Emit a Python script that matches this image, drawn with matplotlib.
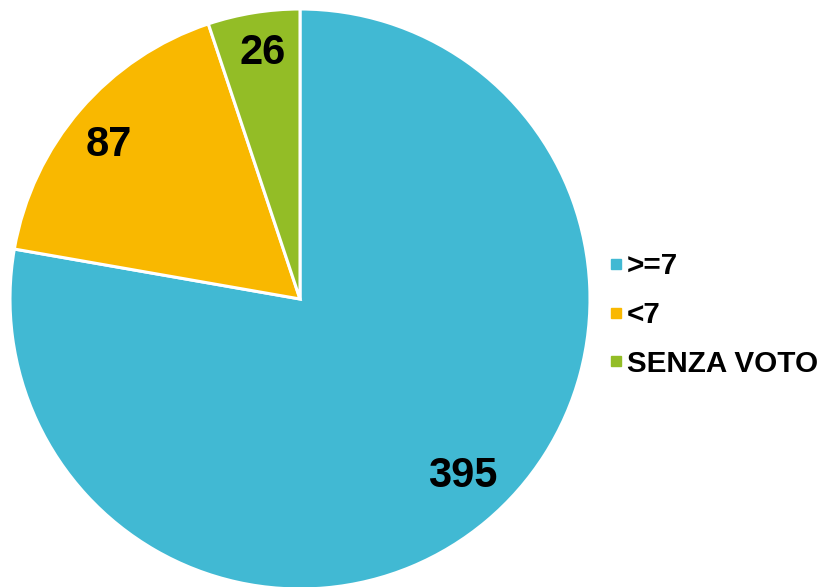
import matplotlib.pyplot as plt
from matplotlib.lines import Line2D

plt.rcParams['font.family'] = ['Liberation Sans', 'DejaVu Sans']

# dati
categorie = ['>=7', '<7', 'SENZA VOTO']
valori = [395, 87, 26]
colori = ['#41B9D3', '#F9B800', '#93BD26']

fig = plt.figure(figsize=(8.2, 5.87), dpi=100)
# centro torta circa (300, 299) px, raggio 290 px
ax = fig.add_axes([10 / 820, (587 - 299 - 290) / 587, 580 / 820, 580 / 587])

wedges, _ = ax.pie(valori, colors=colori, startangle=90, counterclock=False,
                   radius=1.0, wedgeprops=dict(edgecolor='white', linewidth=2.2))
ax.set_xlim(-1, 1)
ax.set_ylim(-1, 1)
ax.set_aspect('equal')

# etichette dei valori
pos = [(0.56, -0.61), (-0.66, 0.53), (-0.13, 0.85)]
for v, (x, y) in zip(valori, pos):
    ax.text(x, y, str(v), ha='center', va='center', fontsize=30, fontweight='bold')

handles = [Line2D([0], [0], marker='s', linestyle='none', markersize=7,
                  markerfacecolor=c, markeredgecolor=c) for c in colori]
leg = fig.legend(handles, categorie, loc='center left', bbox_to_anchor=(609 / 820, (587 - 315) / 587),
                 frameon=False, prop=dict(size=21.3, weight='bold'),
                 handlelength=0.45, handletextpad=0.15, labelspacing=0.7, borderaxespad=0,
                 borderpad=0)

fig.savefig('out.png', dpi=100)
